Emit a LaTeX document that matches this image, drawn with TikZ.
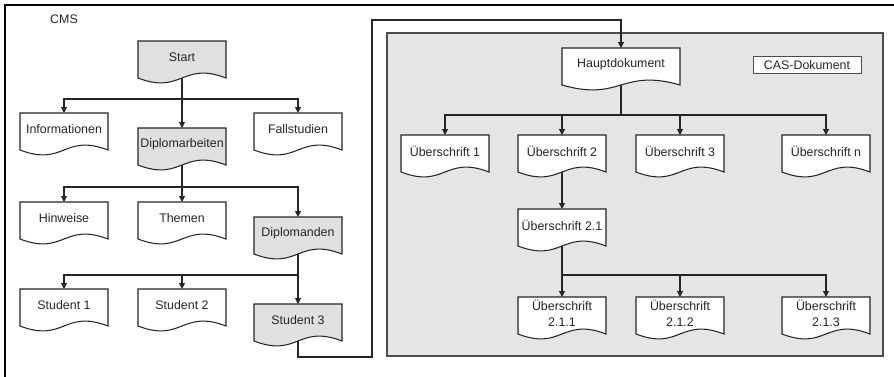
\documentclass[tikz,border=0pt]{standalone}
\usepackage{fontspec}
\setmainfont{Liberation Sans}
\usetikzlibrary{arrows.meta}
\colorlet{docgray}{gray!24}

\begin{document}
\begin{tikzpicture}[x=0.75pt, y=-0.75pt,
    every node/.style={font=\fontsize{9.3}{12}\selectfont, text=black!85},
    docline/.style={draw=black!85, line width=0.8pt},
    doctext/.style={anchor=north, inner sep=0pt, minimum height=24pt, align=center},
    link/.style={draw=black!85, line width=0.8pt},
    arr/.style={link, -{Triangle[length=4.5pt,width=4.5pt]}}]

  \useasboundingbox (0,0) rectangle (894,376);
  \begin{scope}
    \clip (0,0) rectangle (894,376);
    \draw[line width=2pt] (5,5) rectangle (920,400);
  \end{scope}

  \node (cms) at (64,19) {CMS};

  % CAS-Dokument
  \draw[fill=gray!20, draw=black!70, line width=1pt] (387,33) rectangle (883,356);
  \node[draw=black!70, fill=white, line width=0.6pt, minimum width=81pt,
        minimum height=12.5pt, inner sep=0pt] (cas) at (807,65) {CAS-Dokument};

  % documents: name/x/top/width/fill/text
  \foreach \n/\x/\y/\w/\col/\txt in {
      start/182/41/88/docgray/Start,
      info/64/113/88/white/Informationen,
      diplarb/182/128/88/docgray/Diplomarbeiten,
      fall/298/113/88/white/Fallstudien,
      hinw/64/202/88/white/Hinweise,
      themen/182/202/88/white/Themen,
      diplom/298/217/88/docgray/Diplomanden,
      stud1/64/289/88/white/Student 1,
      stud2/182/289/88/white/Student 2,
      stud3/298/304/88/docgray/Student 3,
      haupt/621/48/118/white/Hauptdokument,
      ue1/445/135/88/white/Überschrift 1,
      ue2/562/135/88/white/Überschrift 2,
      ue3/680/135/88/white/Überschrift 3,
      uen/826/135/88/white/Überschrift n,
      ue21/562/209/88/white/Überschrift 2.1,
      ue211/562/297/88/white/{Überschrift\\2.1.1},
      ue212/680/297/88/white/{Überschrift\\2.1.2},
      ue213/826/297/88/white/{Überschrift\\2.1.3}} {
    \draw[docline, fill=\col] ({\x-\w/2},\y) -- ({\x+\w/2},\y) -- ({\x+\w/2},{\y+37})
      .. controls (\x,{\y+20}) and (\x,{\y+54}) .. ({\x-\w/2},{\y+37}) -- cycle;
    \node[doctext, minimum width={\w*0.75pt}] (\n) at (\x,\y) {\txt};
    \coordinate (\n-b) at (\x,{\y+37});
  }

  \coordinate (j1) at (182,99);
  \coordinate (j2) at (182,187);
  \coordinate (j3) at (298,275);
  \coordinate (j4) at (621,115);
  \coordinate (j5) at (562,275);
  \coordinate (c1) at (372,357);
  \coordinate (c2) at (372,20);

  \draw[arr] (start-b) -- (diplarb);
  \draw[arr] (j1) -| (info);
  \draw[arr] (j1) -| (fall);

  \draw[arr] (diplarb-b) -- (themen);
  \draw[arr] (j2) -| (hinw);
  \draw[arr] (j2) -| (diplom);

  \draw[arr] (diplom-b) -- (stud3);
  \draw[arr] (j3) -| (stud1);
  \draw[arr] (j3) -| (stud2);

  \draw[arr] (stud3-b) |- (c1) -- (c2) -| (haupt);

  \draw[link] (haupt-b) -- (j4);
  \foreach \n in {ue1,ue2,ue3,uen}
    \draw[arr] (j4) -| (\n);

  \draw[arr] (ue2-b) -- (ue21);
  \draw[arr] (ue21-b) -- (ue211);
  \draw[arr] (j5) -| (ue212);
  \draw[arr] (j5) -| (ue213);
\end{tikzpicture}
\end{document}
